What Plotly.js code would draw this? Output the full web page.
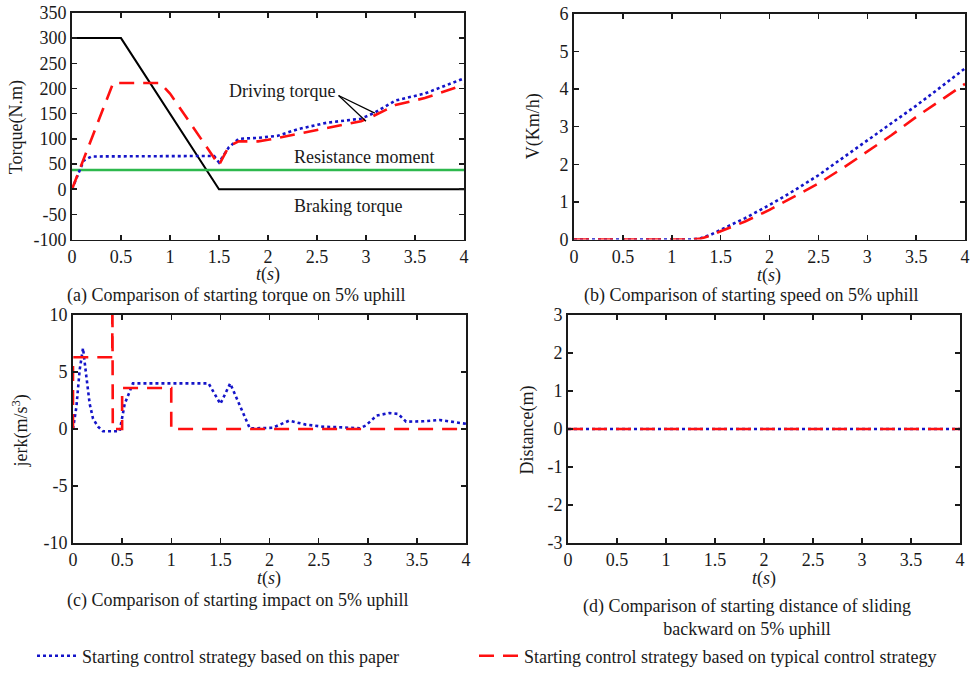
<!DOCTYPE html>
<html>
<head>
<meta charset="utf-8">
<script src="https://cdn.plot.ly/plotly-3.0.1.min.js"></script>
<style>
  html, body { margin: 0; padding: 0; background: #ffffff; }
  #chart { width: 970px; height: 675px; }
</style>
</head>
<body>
<div id="chart"></div>
<script>
// ---------- data ----------
// (a) torque
const tBrake = [0, 0.5, 1.5, 4];
const brakeTorque = [300, 300, 0, 0];
const tResist = [0, 4];
const resistMoment = [38, 38];
const tDrivePaper = [0, 0.12, 0.2, 1.45, 1.5, 1.6, 1.7, 1.9, 2.1, 2.3, 2.6, 2.95, 3.09, 3.3, 3.6, 4.0];
const drivePaper = [0, 57, 65, 66, 53, 83, 100, 102, 106, 119, 132, 140, 152, 176, 190, 220];
const tDriveTyp = [0, 0.42, 0.9, 1.0, 1.5, 1.6, 1.7, 1.9, 2.0, 2.3, 2.6, 2.95, 3.05, 3.3, 3.6, 4.0];
const driveTyp = [0, 211, 211, 190, 48, 85, 95, 95, 98, 110, 122, 135, 143, 167, 181, 207];

// (b) speed
const tSpeed = [0, 0.5, 1.0, 1.2, 1.3, 1.4, 1.5, 1.75, 2.0, 2.25, 2.5, 2.75, 3.0, 3.25, 3.5, 3.75, 4.0];
const speedPaper = [0, 0, 0, 0, 0.04, 0.13, 0.26, 0.57, 0.92, 1.3, 1.71, 2.17, 2.64, 3.1, 3.56, 4.05, 4.55];
const speedTyp = [0, 0, 0, 0, 0.03, 0.11, 0.22, 0.48, 0.79, 1.13, 1.49, 1.9, 2.33, 2.78, 3.26, 3.7, 4.14];

// (c) jerk
const tJerkPaper = [0, 0.034, 0.068, 0.102, 0.136, 0.17, 0.204, 0.255, 0.305, 0.475, 0.526, 0.61, 1.38, 1.5, 1.6, 1.8, 2.03, 2.2, 2.37, 2.54, 2.71, 2.92, 2.98, 3.09, 3.22, 3.31, 3.39, 3.56, 3.73, 3.87, 4.0];
const jerkPaper = [0, 1.9, 5.2, 7.1, 4.6, 2.2, 0.9, 0.2, -0.2, -0.2, 2.2, 4.0, 4.0, 2.2, 4.0, 0.05, 0.1, 0.73, 0.38, 0.2, 0.15, 0.06, 0.3, 1.17, 1.4, 1.32, 0.64, 0.67, 0.79, 0.6, 0.45];
const tJerkTyp = [0, 0, 0.4, 0.4, 0.405, 0.5, 0.5, 1.0, 1.0, 4.0];
const jerkTyp = [0, 6.3, 6.3, 15, 0, 0, 3.6, 3.6, 0, 0];

// (d) sliding distance
const tDist = [0, 4];
const distPaper = [0, 0];
const distTyp = [0, 0];

// tick labels
const xTicks = [0, 0.5, 1, 1.5, 2, 2.5, 3, 3.5, 4];
const xTickText = ['0', '0.5', '1', '1.5', '2', '2.5', '3', '3.5', '4'];
const torqueTicks = [-100, -50, 0, 50, 100, 150, 200, 250, 300, 350];
const torqueTickText = ['-100', '-50', '0', '50', '100', '150', '200', '250', '300', '350'];
const speedTicks = [0, 1, 2, 3, 4, 5, 6];
const speedTickText = ['0', '1', '2', '3', '4', '5', '6'];
const jerkTicks = [-10, -5, 0, 5, 10];
const jerkTickText = ['-10', '-5', '0', '5', '10'];
const distTicks = [-3, -2, -1, 0, 1, 2, 3];
const distTickText = ['-3', '-2', '-1', '0', '1', '2', '3'];

const nameA = 'Starting control strategy based on this paper';
const nameB = 'Starting control strategy based on typical control strategy';

// ---------- styling ----------
const W = 970, H = 675;
const FONT = 'Liberation Serif, Times New Roman, serif';
const INK = '#1a1a1a';
const BLUE = '#1414c8';
const RED = '#ff1010';
const GREEN = '#2db84d';
const blueLine = {color: BLUE, width: 2.6, dash: '3px,3px'};
const redLine = {color: RED, width: 2.6, dash: '15px,9px'};

function px2x(a, b) { return [a / W, b / W]; }
function px2y(top, bottom) { return [1 - bottom / H, 1 - top / H]; }

function axisBase(extra) {
  return Object.assign({
    showline: true, linecolor: INK, linewidth: 1.8, mirror: 'ticks',
    ticks: 'inside', ticklen: 5, tickwidth: 1.5, tickcolor: INK,
    showgrid: false, zeroline: false, fixedrange: true,
    tickfont: {family: FONT, size: 18, color: INK}
  }, extra);
}

const traces = [
  // (a)
  {x: tBrake, y: brakeTorque, xaxis: 'x', yaxis: 'y', mode: 'lines', line: {color: '#000', width: 2}, showlegend: false},
  {x: tResist, y: resistMoment, xaxis: 'x', yaxis: 'y', mode: 'lines', line: {color: GREEN, width: 2.5}, showlegend: false},
  {x: tDrivePaper, y: drivePaper, xaxis: 'x', yaxis: 'y', mode: 'lines', line: blueLine, name: nameA, legend: 'legend'},
  {x: tDriveTyp, y: driveTyp, xaxis: 'x', yaxis: 'y', mode: 'lines', line: redLine, name: nameB, legend: 'legend2'},
  // (b)
  {x: tSpeed, y: speedPaper, xaxis: 'x2', yaxis: 'y2', mode: 'lines', line: blueLine, showlegend: false},
  {x: tSpeed, y: speedTyp, xaxis: 'x2', yaxis: 'y2', mode: 'lines', line: redLine, showlegend: false},
  // (c)
  {x: tJerkPaper, y: jerkPaper, xaxis: 'x3', yaxis: 'y3', mode: 'lines', line: blueLine, showlegend: false},
  {x: tJerkTyp, y: jerkTyp, xaxis: 'x3', yaxis: 'y3', mode: 'lines', line: redLine, showlegend: false},
  // (d)
  {x: tDist, y: distPaper, xaxis: 'x4', yaxis: 'y4', mode: 'lines', line: blueLine, showlegend: false},
  {x: tDist, y: distTyp, xaxis: 'x4', yaxis: 'y4', mode: 'lines', line: redLine, showlegend: false}
];

const xCommon = {range: [0, 4], tickmode: 'array', tickvals: xTicks, ticktext: xTickText};

function txt(text, xpx, ypx, opts) {
  return Object.assign({
    text: text, xref: 'paper', yref: 'paper', x: xpx / W, y: 1 - ypx / H,
    xanchor: 'center', yanchor: 'middle', showarrow: false,
    font: {family: FONT, size: 18, color: INK}
  }, opts || {});
}

const titleFont = {family: FONT, size: 18, color: INK};
const annotations = [
  // x-axis titles
  txt('<i>t</i>(<i>s</i>)', 268, 276, {font: titleFont}),
  txt('<i>t</i>(<i>s</i>)', 769, 277, {font: titleFont}),
  txt('<i>t</i>(<i>s</i>)', 269, 582, {font: titleFont}),
  txt('<i>t</i>(<i>s</i>)', 764, 582, {font: titleFont}),
  // y-axis titles
  txt('Torque(N.m)', 16, 128, {textangle: -90}),
  txt('V(Km/h)', 533, 127, {textangle: -90}),
  txt('jerk(m/s<sup>3</sup>)', 21, 434, {textangle: -90}),
  txt('Distance(m)', 527, 433, {textangle: -90}),
  // captions
  txt('(a) Comparison of starting torque on 5% uphill', 236, 297),
  txt('(b) Comparison of starting speed on 5% uphill', 751, 297),
  txt('(c) Comparison of starting impact on 5% uphill', 237, 604),
  txt('(d) Comparison of starting distance of sliding<br>backward on 5% uphill', 747, 621),
  // in-plot labels (a)
  {text: 'Driving torque', xref: 'x', yref: 'y', x: 2.14, y: 194, showarrow: false,
   font: {family: FONT, size: 18, color: INK}},
  {text: 'Resistance moment', xref: 'x', yref: 'y', x: 2.98, y: 64, showarrow: false,
   font: {family: FONT, size: 18, color: INK}},
  {text: 'Braking torque', xref: 'x', yref: 'y', x: 2.82, y: -33, showarrow: false,
   font: {family: FONT, size: 18, color: INK}}
];

// pointer lines from the "Driving torque" label to the two curves
const shapes = [
  {type: 'line', xref: 'x', yref: 'y', x0: 2.72, y0: 186, x1: 3.09, y1: 151, line: {color: '#000', width: 1.2}},
  {type: 'line', xref: 'x', yref: 'y', x0: 2.72, y0: 186, x1: 3.0, y1: 135, line: {color: '#000', width: 1.2}}
];

const legendBase = {
  orientation: 'h', xanchor: 'left', yanchor: 'middle', y: 1 - 660 / H,
  bgcolor: 'rgba(0,0,0,0)', borderwidth: 0, itemwidth: 40,
  font: {family: FONT, size: 18, color: INK}, itemclick: false, itemdoubleclick: false
};

const layout = {
  width: W, height: H,
  margin: {l: 0, r: 0, t: 0, b: 0},
  paper_bgcolor: '#ffffff', plot_bgcolor: '#ffffff',
  font: {family: FONT, size: 18, color: INK},
  xaxis: axisBase(Object.assign({domain: px2x(72, 464), anchor: 'y'}, xCommon)),
  yaxis: axisBase({domain: px2y(13, 241), anchor: 'x', range: [-100, 350], tickmode: 'array', tickvals: torqueTicks, ticktext: torqueTickText}),
  xaxis2: axisBase(Object.assign({domain: px2x(574, 965), anchor: 'y2'}, xCommon)),
  yaxis2: axisBase({domain: px2y(14, 241), anchor: 'x2', range: [0, 6], tickmode: 'array', tickvals: speedTicks, ticktext: speedTickText}),
  xaxis3: axisBase(Object.assign({domain: px2x(73, 466), anchor: 'y3'}, xCommon)),
  yaxis3: axisBase({domain: px2y(317, 546), anchor: 'x3', range: [-10, 10], tickmode: 'array', tickvals: jerkTicks, ticktext: jerkTickText}),
  xaxis4: axisBase(Object.assign({domain: px2x(568, 960), anchor: 'y4'}, xCommon)),
  yaxis4: axisBase({domain: px2y(317, 546), anchor: 'x4', range: [-3, 3], tickmode: 'array', tickvals: distTicks, ticktext: distTickText}),
  legend: Object.assign({}, legendBase, {x: 32 / W}),
  legend2: Object.assign({}, legendBase, {x: 474 / W}),
  annotations: annotations,
  shapes: shapes,
  showlegend: true
};

Plotly.newPlot('chart', traces, layout, {displayModeBar: false, staticPlot: true});
</script>
</body>
</html>
